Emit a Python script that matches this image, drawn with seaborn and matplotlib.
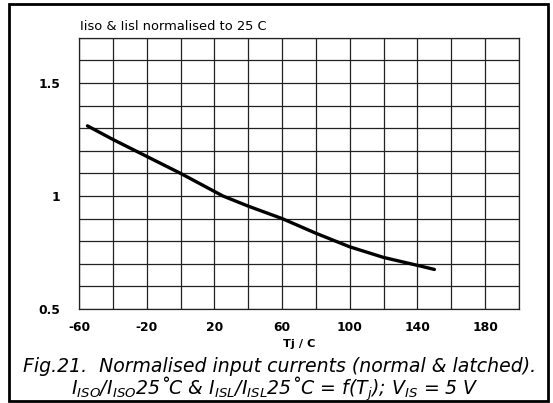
import matplotlib
matplotlib.use("Agg")
import matplotlib.pyplot as plt
import seaborn as sns
import pandas as pd
from matplotlib.patches import Rectangle
from matplotlib.ticker import MultipleLocator, FixedLocator

temps = [-55, -40, -20, 0, 20, 25, 40, 60, 80, 100, 120, 140, 150]
ratio = [1.31, 1.25, 1.175, 1.10, 1.02, 1.0, 0.955, 0.90, 0.835, 0.775, 0.728, 0.693, 0.675]
xtick_vals = [-60, -20, 20, 60, 100, 140, 180]
ytick_vals = [0.5, 1.0, 1.5]
ytick_labels = ["0.5", "1", "1.5"]

sns.set_style("white")
plt.rcParams['font.family'] = ['DejaVu Sans']
plt.rcParams['mathtext.fontset'] = 'dejavusans'
plt.rcParams['mathtext.default'] = 'it'
plt.rcParams['axes.unicode_minus'] = False
for k in ['text.color', 'axes.labelcolor', 'xtick.color', 'ytick.color']:
    plt.rcParams[k] = 'black'

df = pd.DataFrame({"T": temps, "r": ratio})

fig = plt.figure(figsize=(5.53, 4.03), dpi=100)
ax = fig.add_axes([79/553, 1-309/403, 440/553, (309-37.7)/403])
sns.lineplot(data=df, x="T", y="r", ax=ax, color="black", linewidth=2.4)

ax.set_xlim(-60, 200)
ax.set_ylim(0.5, 1.7)
ax.xaxis.set_major_locator(FixedLocator(xtick_vals))
ax.xaxis.set_minor_locator(MultipleLocator(20))
ax.yaxis.set_major_locator(FixedLocator(ytick_vals))
ax.set_yticklabels(ytick_labels)
ax.yaxis.set_minor_locator(MultipleLocator(0.1))
ax.grid(True, which="both", color="#222222", linewidth=0.9)
ax.tick_params(axis="both", which="both", direction="out", color="#222222", width=0.9)
ax.tick_params(axis="x", which="both", length=3, pad=5.5)
ax.tick_params(axis="y", which="both", length=5, pad=8.5)
for lab in ax.get_xticklabels() + ax.get_yticklabels():
    lab.set_fontsize(8.9)
    lab.set_fontweight("bold")
for s in ax.spines.values():
    s.set_color("#222222")
    s.set_linewidth(0.9)
ax.set_xlabel("Tj / C", fontsize=8.2, fontweight="bold", labelpad=4)
ax.set_ylabel("")

fig.text(80/553, 1-30.5/403, "Iiso & Iisl normalised to 25 C", fontsize=9.4,
         ha="left", va="baseline")

fig.text(280/553, 1-372/403, "Fig.21.  Normalised input currents (normal & latched).",
         fontsize=13.6, fontstyle="italic", ha="center", va="baseline")
fig.text(275/553, 1-394.5/403,
         "I$_{ISO}$/I$_{ISO}$25\u02daC & I$_{ISL}$/I$_{ISL}$25\u02daC = f(T$_j$); V$_{IS}$ = 5 V",
         fontsize=13.6, fontstyle="italic", ha="center", va="baseline")

fig.patches.append(Rectangle((9/553, 2/403), 539/553, 397/403, transform=fig.transFigure,
                             fill=False, edgecolor="black", linewidth=2))

fig.savefig("out.png", dpi=100)
